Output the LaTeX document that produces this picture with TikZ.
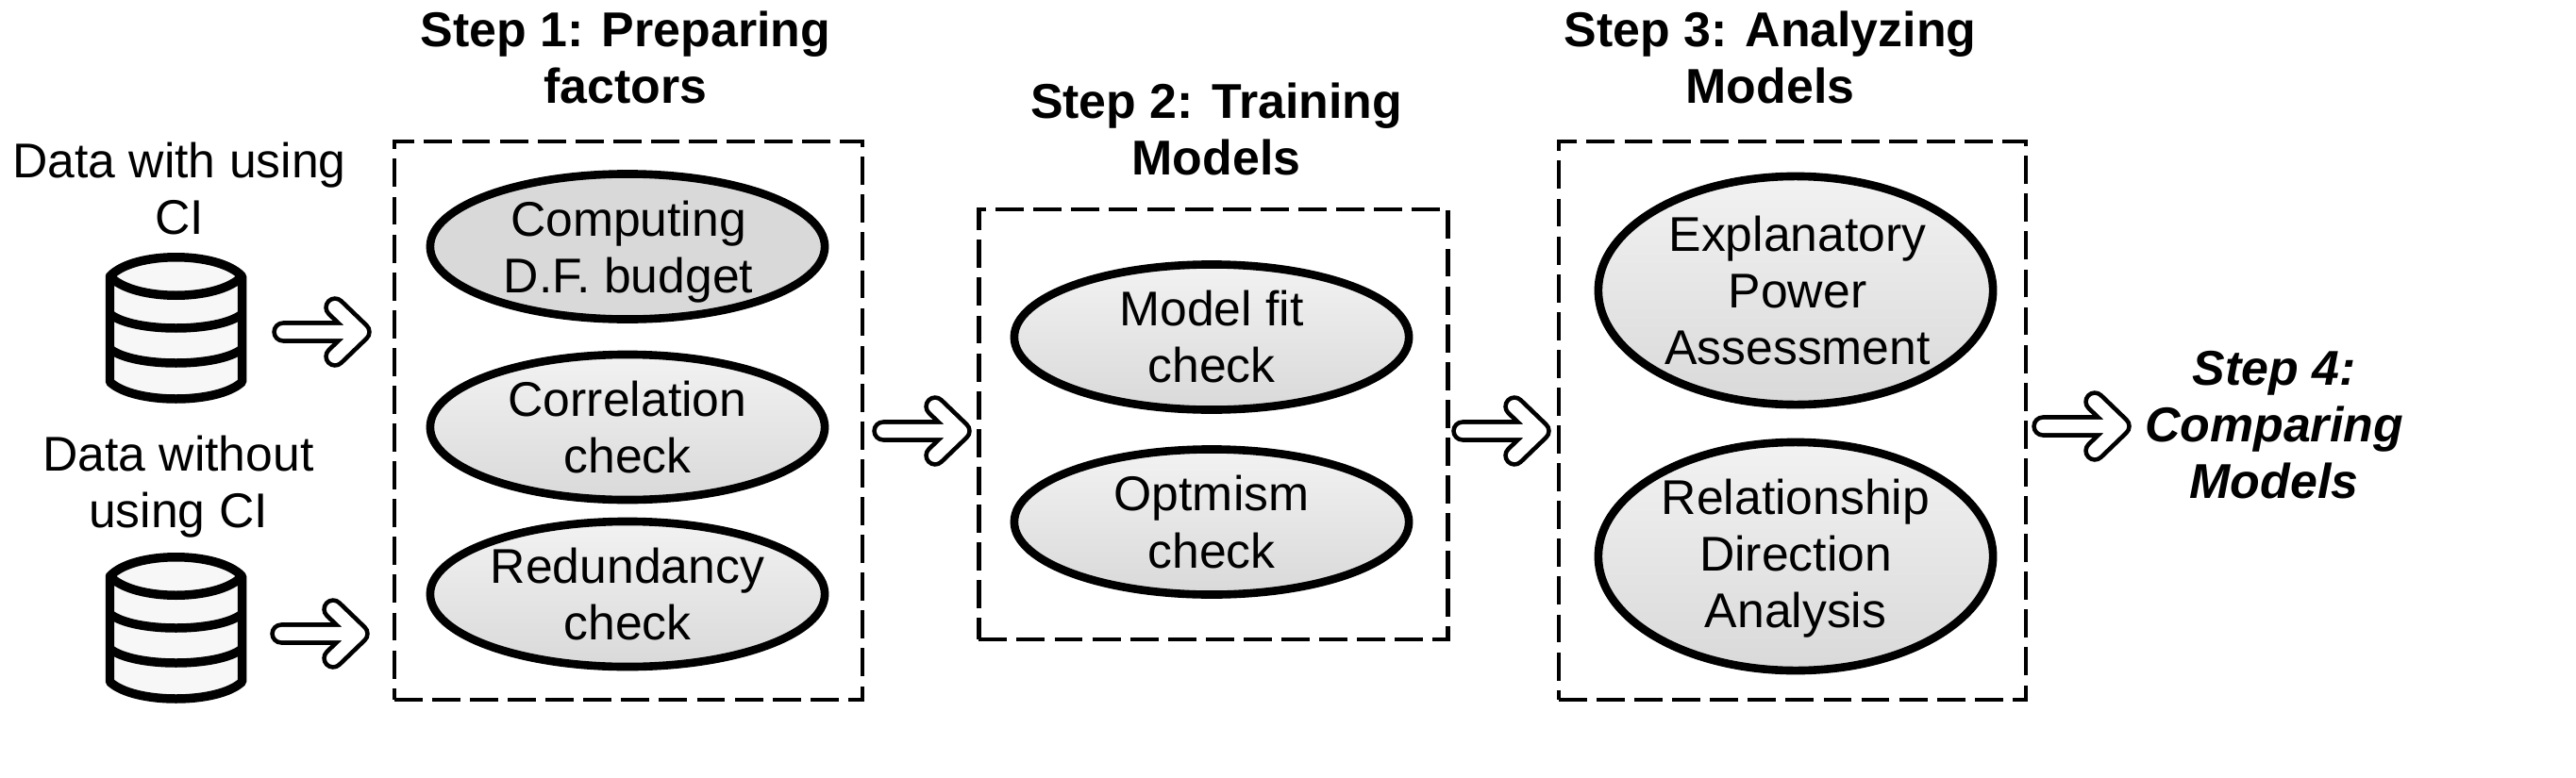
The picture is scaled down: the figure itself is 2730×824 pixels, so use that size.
\documentclass[tikz,border=0pt]{standalone}
\usepackage{fontspec}
\setmainfont{Liberation Sans}
\usetikzlibrary{shapes.geometric}
\tikzset{
  px/.style={x=0.01cm,y=-0.01cm},
  txt/.style={align=center,inner sep=0pt,outer sep=0pt,font=\fontsize{14.7pt}{17.07pt}\selectfont,text=black},
  steptitle/.style={txt,font=\fontsize{14.75pt}{17.07pt}\selectfont\bfseries},
  finaltitle/.style={txt,font=\fontsize{14.75pt}{17.07pt}\selectfont\bfseries\itshape},
  stepframe/.style={draw=black,line width=1.25pt,dash pattern=on 8.5pt off 2.9pt,rectangle,inner sep=0pt,outer sep=0pt},
  oval/.style={ellipse,draw=black,line width=2.45pt,inner sep=0pt,outer sep=0pt,minimum width=4.18cm,align=center,
     font=\fontsize{14.7pt}{17.07pt}\selectfont},
  smalloval/.style={oval,minimum height=1.54cm,top color=ovaltop,bottom color=ovalbot},
  flatoval/.style={oval,minimum height=1.54cm,fill=ovalflat},
  bigoval/.style={oval,minimum height=2.42cm,top color=ovaltop,bottom color=ovalbot},
  pics/blockarrow/.style={code={
    \draw[black,line width=6.7pt,line cap=round,line join=round] (-41,0)--(36,0) (14,-26)--(41,0)--(14,26);
    \draw[white,line width=4pt,line cap=round,line join=round] (-41,0)--(36,0) (14,-26)--(41,0)--(14,26);
  }},
  pics/database/.style={code={
    \fill[dbfill] (-70,-55) .. controls (-45,-82) and (45,-82) .. (70,-55) -- (70,57) .. controls (45,81) and (-45,81) .. (-70,57) -- cycle;
    \draw[black,line width=2.7pt,line join=round]
      (-70,-55) .. controls (-45,-82) and (45,-82) .. (70,-55)
      .. controls (45,-28) and (-45,-28) .. (-70,-55)
      -- (-70,57) .. controls (-45,81) and (45,81) .. (70,57) -- (70,-55);
    \draw[black,line width=2.7pt] (-70,-15) .. controls (-45,5) and (45,5) .. (70,-15);
    \draw[black,line width=2.7pt] (-70,22) .. controls (-45,42) and (45,42) .. (70,22);
  }}
}
\definecolor{ovaltop}{HTML}{F2F2F2}
\definecolor{ovalbot}{HTML}{D9D9D9}
\definecolor{ovalflat}{HTML}{D9D9D9}
\definecolor{dbfill}{HTML}{F7F7F7}
\begin{document}
\begin{tikzpicture}[px]
\useasboundingbox (0,0) rectangle (2730,824);
% frames
\node[stepframe,minimum width=4.96cm,minimum height=5.92cm] (box1) at (666,446) {};
\node[stepframe,minimum width=4.97cm,minimum height=4.56cm] (box2) at (1286,450) {};
\node[stepframe,minimum width=4.95cm,minimum height=5.92cm] (box3) at (1899.5,446) {};
% titles
\node[steptitle] (t1) at (663,61) {Step 1: Preparing\\factors};
\node[steptitle] (t2) at (1289,137) {Step 2: Training\\Models};
\node[steptitle] (t3) at (1876,61) {Step 3: Analyzing\\Models};
\node[finaltitle] (t4) at (2410,451) {Step 4:\\Comparing\\Models};
% data
\node[txt] (d1) at (190,200) {Data with using\\CI};
\node[txt] (d2) at (189,516) {Data without\\using CI};
\pic (db1) at (186.5,348) {database};
\pic (db2) at (186.5,666) {database};
% ovals
\node[flatoval] (e1) at (665,261.5) {};
\node[txt] (e1t) at (666,267) {Computing\\D.F. budget};
\node[smalloval] (e2) at (665,453) {Correlation\\check};
\node[smalloval] (e3) at (665,630) {Redundancy\\check};
\node[smalloval] (e4) at (1284,357.5) {Model fit\\check};
\node[smalloval] (e5) at (1284,553.5) {Optmism\\check};
\node[bigoval] (e6) at (1903,308) {};
\node[txt] (e6t) at (1905,308) {Explanatory\\Power\\Assessment};
\node[bigoval] (e7) at (1903,590) {};
\node[txt] (e7t) at (1903,592) {Relationship\\Direction\\Analysis};
% block arrows
\pic (a1) at (341,352) {blockarrow};
\pic (a2) at (339,672) {blockarrow};
\pic (a3) at (977,457) {blockarrow};
\pic (a4) at (1591,457) {blockarrow};
\pic (a5) at (2206,452) {blockarrow};
\end{tikzpicture}
\end{document}
